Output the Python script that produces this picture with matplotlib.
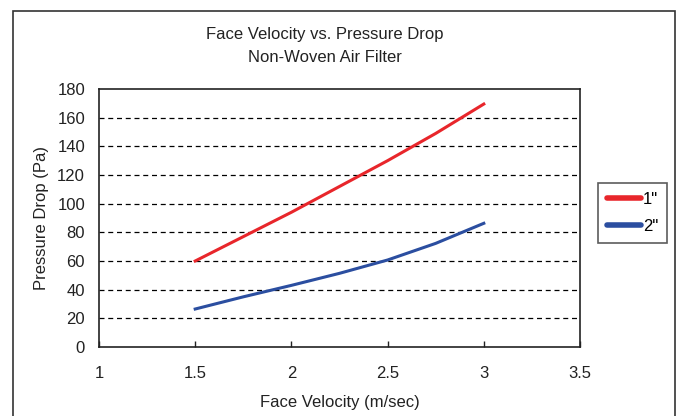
import matplotlib
matplotlib.use("Agg")
import matplotlib.pyplot as plt
from matplotlib.patches import Rectangle

plt.rcParams['font.family'] = ['Liberation Sans', 'DejaVu Sans']

velocity = [1.5, 1.75, 2.0, 2.25, 2.5, 2.75, 3.0]
drop_1in = [60, 77, 94, 112, 130, 149, 169.5]
drop_2in = [26.5, 35, 43, 51.4, 60.7, 72.3, 86.3]
series_labels = ['1"', '2"']
xticks = [1, 1.5, 2, 2.5, 3, 3.5]
yticks = list(range(0, 181, 20))

W, H = 679, 416
fig = plt.figure(figsize=(W / 100, H / 100), dpi=100)
fig.patches.append(Rectangle((13 / W, -0.1), (675 - 13) / W, (H - 11) / H + 0.1,
                             transform=fig.transFigure, fill=False,
                             edgecolor='#333333', linewidth=1.2))

FS = 12
left, right, top, bottom = 99, 580, 89, 347
ax = fig.add_axes([left / W, 1 - bottom / H, (right - left) / W, (bottom - top) / H])
ax.plot(velocity, drop_1in, color='#e8262b', lw=2.2, label=series_labels[0])
ax.plot(velocity, drop_2in, color='#2b4ea0', lw=2.2, label=series_labels[1])
ax.set_xlim(1, 3.5)
ax.set_ylim(0, 180)
ax.set_xticks(xticks)
ax.set_xticklabels([f"{t:g}" for t in xticks])
ax.set_yticks(yticks)
for y in yticks[1:-1]:
    ax.axhline(y, color='black', lw=0.9, ls=(0, (4, 3)), zorder=0)
ax.tick_params(axis='x', direction='in', length=4, width=1, pad=14, labelsize=FS, colors='#222222')
ax.tick_params(axis='y', length=0, pad=10, labelsize=FS, colors='#222222')
for s in ax.spines.values():
    s.set_color('#222222')
    s.set_linewidth(1.2)
ax.set_xlabel('Face Velocity (m/sec)', fontsize=FS, color='#222222', labelpad=10)
ax.set_ylabel('Pressure Drop (Pa)', fontsize=FS, color='#222222', labelpad=6)
fig.text(325 / W, 1 - 35 / H, 'Face Velocity vs. Pressure Drop', ha='center', va='center',
         fontsize=FS, color='#222222')
fig.text(325 / W, 1 - 57 / H, 'Non-Woven Air Filter', ha='center', va='center',
         fontsize=FS, color='#222222')
leg = ax.legend(loc='center left', bbox_to_anchor=(598 / W, 1 - 213 / H),
                bbox_transform=fig.transFigure, frameon=True, fancybox=False,
                edgecolor='#333333', fontsize=FS, handlelength=2.0, handletextpad=0.15,
                borderpad=0.55, labelspacing=0.75, borderaxespad=0)
leg.get_frame().set_linewidth(1.2)
for line in leg.get_lines():
    line.set_linewidth(4)
    line.set_solid_capstyle('round')

fig.savefig('out.png', dpi=100)
